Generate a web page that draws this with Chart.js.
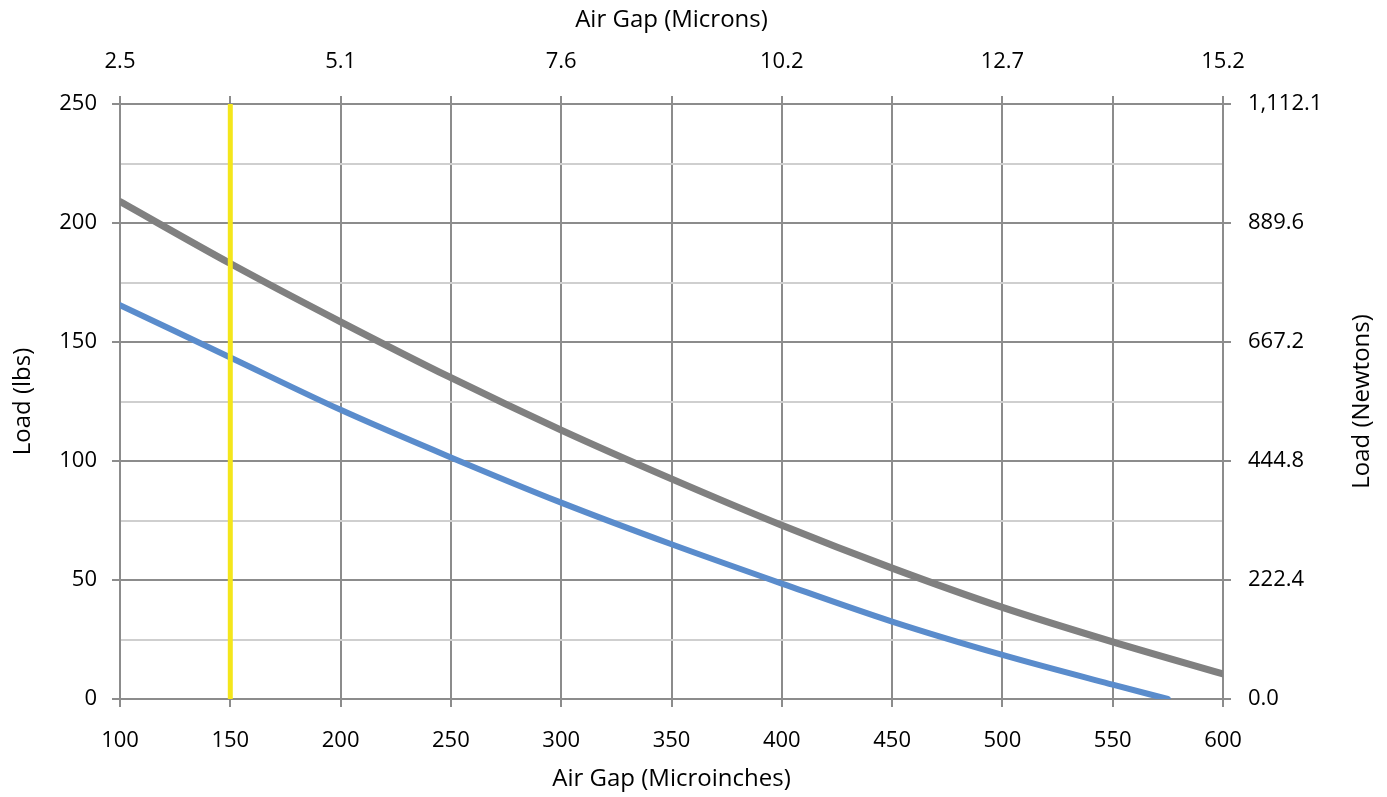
<!DOCTYPE html>
<html>
<head>
<meta charset="utf-8">
<script src="https://cdn.jsdelivr.net/npm/chart.js@4.4.1/dist/chart.umd.min.js"></script>
<style>
    html, body { margin: 0; padding: 0; background: #ffffff; }
    #wrap { width: 1387px; height: 797px; position: relative; }
</style>
</head>
<body>
<div id="wrap"><canvas id="loadChart"></canvas></div>
<script>
// air gap in microinches, load in lbs
const upperGap = [100, 150, 200, 250, 300, 350, 400, 450, 500, 550, 600];
const upperLoad = [209, 183, 158.5, 135, 113, 92.5, 73, 55, 38.5, 24, 10.5];

const lowerGap = [100, 150, 200, 250, 300, 350, 400, 450, 500, 550, 575];
const lowerLoad = [165.5, 143.5, 121.5, 101.5, 82.5, 65, 48.5, 32.5, 18.5, 6, 0];

const markerGap = [150, 150];
const markerLoad = [0, 250];

const bottomTickValues = [100, 150, 200, 250, 300, 350, 400, 450, 500, 550, 600];
const bottomTickLabels = ['100', '150', '200', '250', '300', '350', '400', '450', '500', '550', '600'];
const topTickValues = [100, 200, 300, 400, 500, 600];
const topTickLabels = ['2.5', '5.1', '7.6', '10.2', '12.7', '15.2'];
const leftTickValues = [0, 50, 100, 150, 200, 250];
const leftTickLabels = ['0', '50', '100', '150', '200', '250'];
const rightTickLabels = ['0.0', '222.4', '444.8', '667.2', '889.6', '1,112.1'];

const colors = {
    grid: '#8c8c8c',
    minorGrid: '#cfcfcf',
    upper: '#808080',
    lower: '#5a8ccc',
    marker: '#f4e61b',
    text: '#000000'
};

const tickFont = { family: 'Open Sans', size: 22 };
const titleFont = { family: 'Open Sans', size: 24 };

function toPoints(xs, ys) {
    return xs.map((x, i) => ({ x: x, y: ys[i] }));
}

function labelFrom(values, labels) {
    return (value) => {
        const i = values.indexOf(value);
        return i === -1 ? '' : labels[i];
    };
}

const isMajor = (ctx) => ctx.tick && ctx.tick.value % 50 === 0;

// right axis title reads bottom-to-top like the left one
const rightTitle = {
    id: 'rightTitle',
    afterDraw(chart) {
        const { ctx, chartArea } = chart;
        const scale = chart.scales.yRight;
        ctx.save();
        ctx.translate(scale.right - 25, (chartArea.top + chartArea.bottom) / 2);
        ctx.rotate(-Math.PI / 2);
        ctx.font = titleFont.size + 'px "' + titleFont.family + '"';
        ctx.fillStyle = colors.text;
        ctx.textAlign = 'center';
        ctx.textBaseline = 'middle';
        ctx.fillText('Load (Newtons)', 0, 0);
        ctx.restore();
    }
};

new Chart(document.getElementById('loadChart'), {
    type: 'line',
    data: {
        datasets: [
            {
                data: toPoints(markerGap, markerLoad),
                borderColor: colors.marker, borderWidth: 5,
                pointRadius: 0, xAxisID: 'x', yAxisID: 'y'
            },
            {
                data: toPoints(upperGap, upperLoad),
                borderColor: colors.upper, borderWidth: 7, borderCapStyle: 'round',
                cubicInterpolationMode: 'monotone', pointRadius: 0,
                xAxisID: 'x', yAxisID: 'y'
            },
            {
                data: toPoints(lowerGap, lowerLoad),
                borderColor: colors.lower, borderWidth: 6, borderCapStyle: 'round',
                cubicInterpolationMode: 'monotone', pointRadius: 0,
                xAxisID: 'x', yAxisID: 'y'
            }
        ]
    },
    options: {
        responsive: true,
        maintainAspectRatio: false,
        animation: false,
        layout: { padding: 0 },
        plugins: { legend: { display: false }, tooltip: { enabled: false } },
        scales: {
            x: {
                type: 'linear', position: 'bottom', min: 100, max: 600,
                afterFit: (s) => { s.height = 98; },
                ticks: {
                    stepSize: 50, autoSkip: false, maxRotation: 0, padding: 21,
                    color: colors.text, font: tickFont,
                    callback: labelFrom(bottomTickValues, bottomTickLabels)
                },
                grid: { color: colors.grid, lineWidth: 2, tickLength: 8, tickColor: colors.grid },
                border: { color: colors.grid, width: 2 },
                title: {
                    display: true, text: 'Air Gap (Microinches)', color: colors.text,
                    font: titleFont, padding: { top: 0, bottom: 3 }
                }
            },
            xTop: {
                type: 'linear', position: 'top', min: 100, max: 600,
                afterFit: (s) => { s.height = 104; },
                ticks: {
                    stepSize: 50, autoSkip: false, maxRotation: 0, padding: 21,
                    color: colors.text, font: tickFont,
                    callback: labelFrom(topTickValues, topTickLabels)
                },
                grid: { drawOnChartArea: false, lineWidth: 2, tickLength: 8, tickColor: colors.grid },
                border: { color: colors.grid, width: 2 },
                title: {
                    display: true, text: 'Air Gap (Microns)', color: colors.text,
                    font: titleFont, padding: { top: 6, bottom: 0 }
                }
            },
            y: {
                type: 'linear', position: 'left', min: 0, max: 250,
                afterFit: (s) => { s.width = 120; },
                ticks: {
                    stepSize: 25, autoSkip: false, padding: 15,
                    color: colors.text, font: tickFont,
                    callback: labelFrom(leftTickValues, leftTickLabels)
                },
                grid: {
                    lineWidth: 2, tickLength: 8,
                    color: (ctx) => isMajor(ctx) ? colors.grid : colors.minorGrid,
                    tickColor: (ctx) => isMajor(ctx) ? colors.grid : 'rgba(0,0,0,0)'
                },
                border: { color: colors.grid, width: 2 },
                title: {
                    display: true, text: 'Load (lbs)', color: colors.text,
                    font: titleFont, padding: { top: 9, bottom: 0 }
                }
            },
            yRight: {
                type: 'linear', position: 'right', min: 0, max: 250,
                afterFit: (s) => { s.width = 164; },
                ticks: {
                    stepSize: 50, autoSkip: false, padding: 17,
                    color: colors.text, font: tickFont,
                    callback: labelFrom(leftTickValues, rightTickLabels)
                },
                grid: { drawOnChartArea: false, lineWidth: 2, tickLength: 8, tickColor: colors.grid },
                border: { color: colors.grid, width: 2 }
            }
        }
    },
    plugins: [rightTitle]
});
</script>
</body>
</html>
